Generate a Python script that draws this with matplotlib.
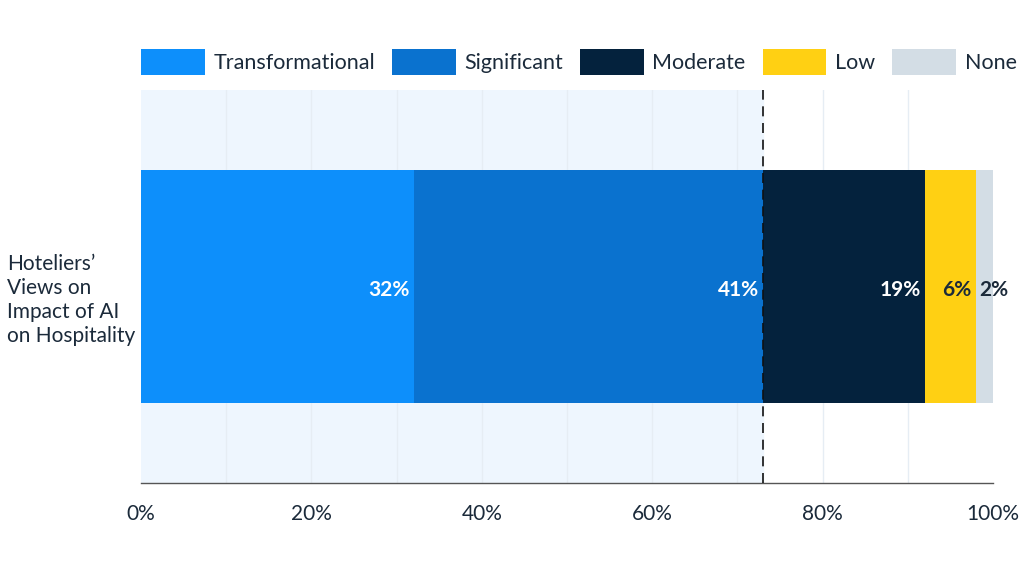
import numpy as np
import matplotlib.pyplot as plt
from matplotlib.patches import Patch

plt.rcParams['font.family'] = ['Lato', 'DejaVu Sans']

# data
categories = ["Transformational", "Significant", "Moderate", "Low", "None"]
values = [32, 41, 19, 6, 2]
colors = ["#0D8FFB", "#0A72CF", "#04223D", "#FFD013", "#D3DDE5"]
label_colors = ["white", "white", "white", "#1B2A3A", "#1B2A3A"]
row_label = "Hoteliers’\nViews on\nImpact of AI\non Hospitality"
ticks = [0, 20, 40, 60, 80, 100]
marker_value = 73

text_color = "#1B2A3A"

fig = plt.figure(figsize=(10.24, 5.76), dpi=100)
ax = fig.add_axes([0.1377, 0.1615, 0.8320, 0.6823])

# shaded region up to the marker and light grid
ax.axvspan(0, marker_value, color="#EEF6FE", zorder=0)
for g in range(10, 100, 10):
    ax.axvline(g, color="#E6EDF4", lw=1, zorder=1)

left = 0
for cat, v, c, lc in zip(categories, values, colors, label_colors):
    ax.barh(0, v, left=left, height=1.186, color=c, zorder=2)
    if v >= 5:
        ax.text(left + v - 0.5, -0.02, f"{v}%", ha="right", va="center",
                color=lc, fontsize=15, fontweight="bold", zorder=4)
    else:
        ax.text(left + 0.4, -0.02, f"{v}%", ha="left", va="center",
                color=lc, fontsize=15, fontweight="bold", zorder=4)
    left += v

ax.axvline(marker_value, color="#111111", lw=1.2, ls=(0, (6, 4)), zorder=3)

ax.set_xlim(0, 100)
ax.set_ylim(-1, 1)
ax.set_xticks(ticks)
ax.set_xticklabels([f"{t}%" for t in ticks], fontsize=15, color=text_color)
ax.set_yticks([])
ax.tick_params(axis="x", length=0, pad=15)
for s in ["top", "right", "left"]:
    ax.spines[s].set_visible(False)
ax.spines["bottom"].set_color("#555555")
ax.spines["bottom"].set_linewidth(1)

fig.text(0.007, 0.479, row_label, ha="left", va="center", fontsize=15,
         color=text_color, linespacing=1.25)

handles = [Patch(facecolor=c, edgecolor="none") for c in colors]
fig.legend(handles, categories, loc="center left", bbox_to_anchor=(0.138, 0.893),
           ncol=5, frameon=False, fontsize=15.5, handlelength=2.95, handleheight=1.5,
           handletextpad=0.4, columnspacing=0.8, labelcolor=text_color,
           borderaxespad=0, borderpad=0)

fig.savefig("out.png", dpi=100, facecolor="white")
